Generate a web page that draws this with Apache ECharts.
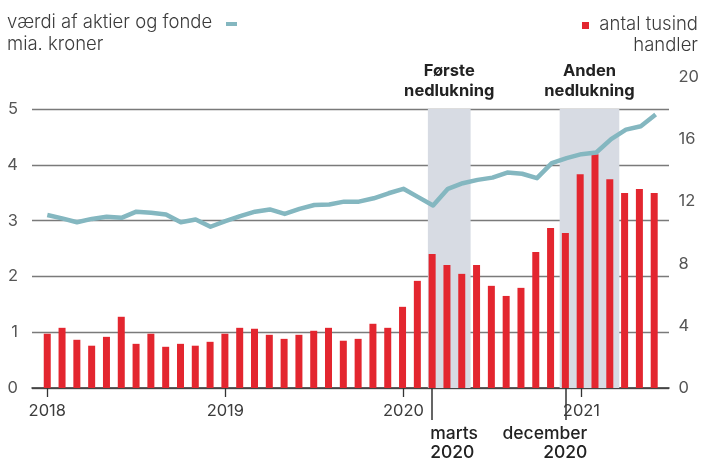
<!DOCTYPE html>
<html>
<head>
<meta charset="utf-8">
<script src="https://cdn.jsdelivr.net/npm/echarts@6/dist/echarts.min.js"></script>
<style>
  html, body { margin: 0; padding: 0; background: #fff; }
  #chart { width: 702px; height: 459px; }
</style>
</head>
<body>
<div id="chart"></div>
<script>
// Månedlige data, januar 2018 - juni 2021
const yearTicks = [0, 12, 24, 36];
const yearLabels = ["2018", "2019", "2020", "2021"];

// værdi af aktier og fonde, mia. kroner (venstre akse)
const stockValue = [
    3.10, 3.04, 2.97, 3.03, 3.07, 3.05, 3.16, 3.14, 3.11, 2.97, 3.02, 2.89,
    2.99, 3.08, 3.16, 3.20, 3.12, 3.21, 3.28, 3.29, 3.34, 3.34, 3.40, 3.49,
    3.57, 3.42, 3.27, 3.57, 3.67, 3.73, 3.77, 3.86, 3.84, 3.76, 4.03, 4.12,
    4.19, 4.22, 4.46, 4.63, 4.69, 4.90
];

// antal tusind handler (højre akse)
const trades = [
    3.49, 3.87, 3.10, 2.72, 3.29, 4.58, 2.84, 3.49, 2.65, 2.84, 2.72, 2.97,
    3.49, 3.87, 3.81, 3.42, 3.16, 3.42, 3.68, 3.87, 3.04, 3.16, 4.13, 3.87,
    5.22, 6.89, 8.62, 7.91, 7.34, 7.91, 6.57, 5.92, 6.44, 8.75, 10.29, 9.97,
    13.75, 15.04, 13.43, 12.54, 12.79, 12.54
];

// nedlukninger (måneds-indeks)
const lockdownNames = ["Første\nnedlukning", "Anden\nnedlukning"];
const lockdownStart = [25.65, 34.53];
const lockdownEnd = [28.53, 38.55];
const markerMonths = [26, 35];
const markerLabels = ["marts\n2020", "december\n2020"];

const FONT = "Inter, 'Noto Sans', sans-serif";
const TEXT = "#3c3c3c";
const RED = "#e3262f";
const TEAL = "#84b7c0";

const chart = echarts.init(document.getElementById("chart"));

const xMin = -1.03, xMax = 41.9;

chart.setOption({
    animation: false,
    grid: [
        { left: 32, right: 33, top: 109, bottom: 71 },
        { left: 32, right: 33, top: 77, bottom: 71 },
    ],
    xAxis: [
        {
            type: "value", gridIndex: 0, min: xMin, max: xMax,
            splitLine: { show: false },
            axisLine: { show: true, lineStyle: { color: "#333", width: 1.5 } },
            axisTick: { show: true, length: 9, customValues: yearTicks, lineStyle: { color: "#333", width: 1.3 } },
            axisLabel: {
                customValues: yearTicks, margin: 15,
                color: TEXT, fontSize: 16.5, fontFamily: FONT,
                formatter: (v) => yearLabels[yearTicks.indexOf(v)] || "",
            },
        },
        {
            type: "value", gridIndex: 1, min: xMin, max: xMax,
            splitLine: { show: false },
            axisLine: { show: false },
            axisTick: { show: true, length: 32, customValues: markerMonths, lineStyle: { color: "#333", width: 1.5 } },
            axisLabel: { show: false },
        },
    ],
    yAxis: [
        {
            type: "value", gridIndex: 0, min: 0, max: 5, interval: 1,
            axisLine: { show: false }, axisTick: { show: false },
            splitLine: { lineStyle: { color: "#7a7a7a", width: 1.3 } },
            axisLabel: { color: "#555", fontSize: 16.5, fontFamily: FONT, margin: 14 },
        },
        {
            type: "value", gridIndex: 1, position: "right", min: 0, max: 20, interval: 4,
            axisLine: { show: false }, axisTick: { show: false },
            splitLine: { show: false },
            axisLabel: { color: "#555", fontSize: 16.5, fontFamily: FONT, margin: 11 },
        },
    ],
    series: [
        {
            // bånd for nedlukninger, under gitterlinjerne
            type: "line", xAxisIndex: 0, yAxisIndex: 0, data: [], z: -1,
            markArea: {
                silent: true,
                itemStyle: { color: "#d7dbe3" },
                data: lockdownStart.map((s, i) => [{ xAxis: s }, { xAxis: lockdownEnd[i] }]),
            },
        },
        {
            type: "bar", xAxisIndex: 1, yAxisIndex: 1, z: 3,
            barWidth: 7,
            itemStyle: { color: RED },
            data: trades.map((v, i) => [i, v]),
        },
        {
            type: "line", xAxisIndex: 0, yAxisIndex: 0, z: 4,
            symbol: "none",
            lineStyle: { color: TEAL, width: 4.5, join: "round" },
            data: stockValue.map((v, i) => [i, v]),
        },
    ],
});

// tekster placeret ud fra aksernes skala
const HEAD = "300 18.5px " + FONT;
const graphics = [
    { type: "text", style: { text: "værdi af aktier og fonde", x: 7, y: 22, font: HEAD, fill: TEXT, verticalAlign: "middle" } },
    { type: "text", style: { text: "mia. kroner", x: 7, y: 44, font: HEAD, fill: TEXT, verticalAlign: "middle" } },
    { type: "rect", shape: { x: 226, y: 22, width: 11, height: 4 }, style: { fill: TEAL } },
    { type: "text", style: { text: "antal tusind", x: 698, y: 24, font: HEAD, fill: TEXT, align: "right", verticalAlign: "middle" } },
    { type: "text", style: { text: "handler", x: 698, y: 45, font: HEAD, fill: TEXT, align: "right", verticalAlign: "middle" } },
    { type: "rect", shape: { x: 582, y: 22, width: 7, height: 7 }, style: { fill: RED } },
];

lockdownNames.forEach((name, i) => {
    const cx = (chart.convertToPixel({ xAxisIndex: 0 }, lockdownStart[i]) +
                chart.convertToPixel({ xAxisIndex: 0 }, lockdownEnd[i])) / 2;
    graphics.push({
        type: "text",
        style: { text: name, x: cx, y: 81, font: "bold 16.5px " + FONT, fill: "#222", align: "center", verticalAlign: "middle", lineHeight: 20 },
    });
});

markerMonths.forEach((m, i) => {
    const px = chart.convertToPixel({ xAxisIndex: 1 }, m);
    const right = i === 1;
    graphics.push({
        type: "text",
        style: {
            text: markerLabels[i], x: right ? px + 22 : px - 2, y: 443,
            font: "500 17.5px " + FONT, fill: "#222", align: right ? "right" : "left",
            verticalAlign: "middle", lineHeight: 19,
        },
    });
});

chart.setOption({ graphic: graphics });
</script>
</body>
</html>
